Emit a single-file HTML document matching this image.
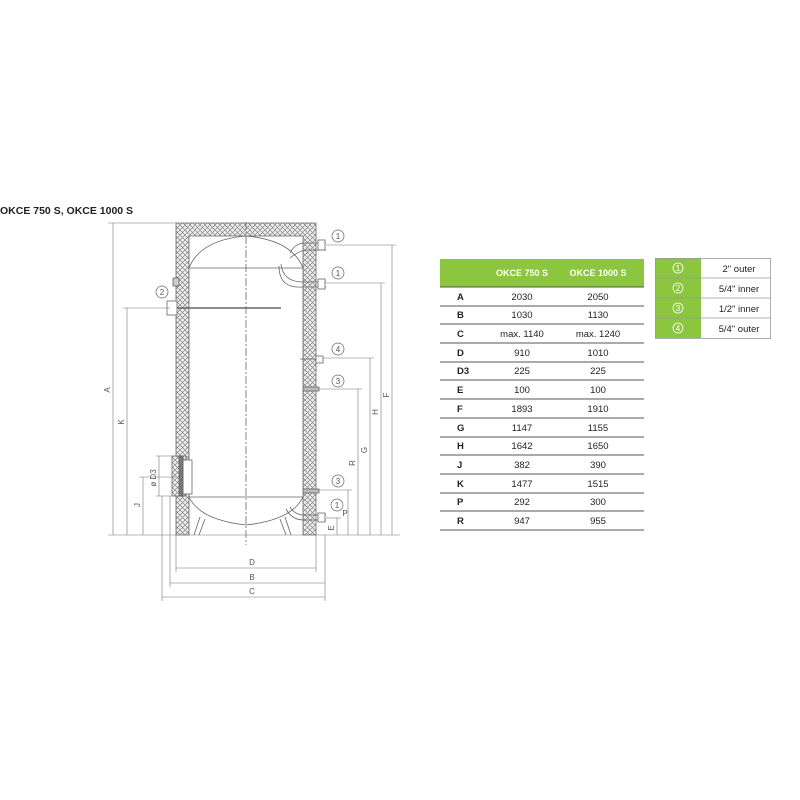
<!DOCTYPE html>
<html><head><meta charset="utf-8"><style>
body{margin:0;background:#fff;}
svg{display:block;font-family:"Liberation Sans",sans-serif;}
</style></head><body>
<svg width="800" height="800" viewBox="0 0 800 800" xmlns="http://www.w3.org/2000/svg">
<defs>
<pattern id="h" width="5" height="5" patternUnits="userSpaceOnUse">
<rect width="5" height="5" fill="#eee"/>
<path d="M0 0L5 5M5 0L0 5" stroke="#888" stroke-width="0.7"/>
</pattern>
</defs>
<text x="0" y="214" font-size="10.5" font-weight="bold" fill="#222">OKCE 750 S, OKCE 1000 S</text>

<g stroke="#666" stroke-width="0.8" fill="none">
<path d="M176 223H316V535H303V236H189V535H176Z" fill="url(#h)"/>
<path d="M189 268Q200 240 246 236Q292 240 303 268V497Q292 520 246 525Q200 520 189 497Z" fill="#fff"/>
<line x1="189" y1="268" x2="303" y2="268"/>
<line x1="189" y1="497" x2="303" y2="497"/>
<line x1="246" y1="222" x2="246" y2="545" stroke-dasharray="8 2 2 2"/>
<path d="M200 517L194 535M205 519L199 535M285 517L291 535M280 519L286 535"/>
<path d="M290 253Q295 243 305 243H326M290 258Q300 250 307 250H326" />
<rect x="318" y="240" width="7" height="10" fill="#fff"/>
<path d="M281 264Q283 282 303 282H326M279 266Q279 289 303 287H326"/>
<rect x="318" y="279" width="7" height="10" fill="#fff"/>
<rect x="316" y="356" width="7" height="7" fill="#fff"/>
<line x1="300" y1="359" x2="316" y2="359"/>
<rect x="303" y="387" width="16" height="4" fill="#bbb"/>
<rect x="303" y="489" width="16" height="4" fill="#bbb"/>
<path d="M286 509Q292 520 304 520H326M290 507Q295 515 304 515H326"/>
<rect x="318" y="513" width="7" height="9" fill="#fff"/>
<rect x="167" y="301" width="10" height="14" fill="#fff"/>
<line x1="177" y1="308" x2="281" y2="308" stroke-width="1.5"/>
<rect x="173" y="278" width="6" height="8" fill="#ccc"/>
<rect x="172" y="456" width="14" height="40" fill="url(#h)"/>
<rect x="183" y="460" width="9" height="34" fill="#fff"/>
<rect x="179" y="456" width="4" height="40" fill="#777"/>
</g>
<g stroke="#777" stroke-width="0.6" fill="none">
<line x1="108" y1="223" x2="176" y2="223"/><line x1="108" y1="535" x2="400" y2="535"/>
<line x1="113" y1="223" x2="113" y2="535"/>
<line x1="123" y1="308" x2="170" y2="308"/><line x1="127" y1="308" x2="127" y2="535"/>
<line x1="139" y1="477" x2="176" y2="477"/><line x1="143" y1="477" x2="143" y2="535"/>
<line x1="156" y1="456" x2="176" y2="456"/><line x1="156" y1="496" x2="176" y2="496"/><line x1="159" y1="456" x2="159" y2="496"/>
<line x1="326" y1="245" x2="396" y2="245"/><line x1="392" y1="245" x2="392" y2="535"/>
<line x1="326" y1="283" x2="385" y2="283"/><line x1="381" y1="283" x2="381" y2="535"/>
<line x1="323" y1="358" x2="374" y2="358"/><line x1="370" y1="358" x2="370" y2="535"/>
<line x1="319" y1="389" x2="362" y2="389"/><line x1="358" y1="389" x2="358" y2="535"/>
<line x1="319" y1="490" x2="352" y2="490"/><line x1="348" y1="490" x2="348" y2="535"/>
<line x1="326" y1="518" x2="341" y2="518"/><line x1="337" y1="518" x2="337" y2="535"/>
<line x1="176" y1="535" x2="176" y2="572"/><line x1="316" y1="535" x2="316" y2="572"/>
<line x1="176" y1="568" x2="316" y2="568"/>
<line x1="170" y1="496" x2="170" y2="587"/><line x1="325" y1="535" x2="325" y2="601"/>
<line x1="170" y1="583" x2="325" y2="583"/>
<line x1="162" y1="496" x2="162" y2="601"/><line x1="162" y1="597" x2="325" y2="597"/>
</g>
<g font-size="8" fill="#555" text-anchor="middle">
<text x="110" y="390" transform="rotate(-90 110 390)">A</text>
<text x="124" y="422" transform="rotate(-90 124 422)">K</text>
<text x="140" y="505" transform="rotate(-90 140 505)">J</text>
<text x="156" y="478" transform="rotate(-90 156 478)">ø D3</text>
<text x="389" y="395" transform="rotate(-90 389 395)">F</text>
<text x="378" y="412" transform="rotate(-90 378 412)">H</text>
<text x="367" y="450" transform="rotate(-90 367 450)">G</text>
<text x="355" y="463" transform="rotate(-90 355 463)">R</text>
<text x="345" y="516">P</text>
<text x="334" y="528" transform="rotate(-90 334 528)">E</text>
<text x="252" y="565">D</text><text x="252" y="580">B</text><text x="252" y="594">C</text>
</g>
<g font-size="8" fill="#555" text-anchor="middle" stroke-width="0.7">
<circle cx="338" cy="236" r="6" fill="#fff" stroke="#666"/><text x="338" y="239">1</text>
<circle cx="338" cy="273" r="6" fill="#fff" stroke="#666"/><text x="338" y="276">1</text>
<circle cx="162" cy="292" r="6" fill="#fff" stroke="#666"/><text x="162" y="295">2</text>
<circle cx="338" cy="349" r="6" fill="#fff" stroke="#666"/><text x="338" y="352">4</text>
<circle cx="338" cy="381" r="6" fill="#fff" stroke="#666"/><text x="338" y="384">3</text>
<circle cx="338" cy="481" r="6" fill="#fff" stroke="#666"/><text x="338" y="484">3</text>
<circle cx="337" cy="505" r="6" fill="#fff" stroke="#666"/><text x="337" y="508">1</text>
</g>

<rect x="440" y="259" width="204" height="28" fill="#8cc63f"/>
<g font-size="9" font-weight="bold" fill="#fff" text-anchor="middle">
<text x="522" y="276">OKCE 750 S</text><text x="598" y="276">OKCE 1000 S</text>
</g>
<g stroke="#555" stroke-width="1">
<line x1="440" y1="287" x2="644" y2="287"/><line x1="440" y1="306" x2="644" y2="306"/>
<line x1="440" y1="324" x2="644" y2="324"/><line x1="440" y1="343" x2="644" y2="343"/>
<line x1="440" y1="362" x2="644" y2="362"/><line x1="440" y1="380" x2="644" y2="380"/>
<line x1="440" y1="399" x2="644" y2="399"/><line x1="440" y1="418" x2="644" y2="418"/>
<line x1="440" y1="437" x2="644" y2="437"/><line x1="440" y1="455" x2="644" y2="455"/>
<line x1="440" y1="474" x2="644" y2="474"/><line x1="440" y1="493" x2="644" y2="493"/>
<line x1="440" y1="511" x2="644" y2="511"/><line x1="440" y1="530" x2="644" y2="530"/>
</g>
<g font-size="9.5" fill="#222">
<g font-weight="bold">
<text x="457" y="300">A</text><text x="457" y="318">B</text><text x="457" y="337">C</text><text x="457" y="356">D</text><text x="457" y="374">D3</text><text x="457" y="393">E</text><text x="457" y="412">F</text><text x="457" y="431">G</text><text x="457" y="449">H</text><text x="457" y="468">J</text><text x="457" y="487">K</text><text x="457" y="505">P</text><text x="457" y="524">R</text>
</g>
<g text-anchor="middle">
<text x="522" y="300">2030</text><text x="598" y="300">2050</text>
<text x="522" y="318">1030</text><text x="598" y="318">1130</text>
<text x="522" y="337">max. 1140</text><text x="598" y="337">max. 1240</text>
<text x="522" y="356">910</text><text x="598" y="356">1010</text>
<text x="522" y="374">225</text><text x="598" y="374">225</text>
<text x="522" y="393">100</text><text x="598" y="393">100</text>
<text x="522" y="412">1893</text><text x="598" y="412">1910</text>
<text x="522" y="431">1147</text><text x="598" y="431">1155</text>
<text x="522" y="449">1642</text><text x="598" y="449">1650</text>
<text x="522" y="468">382</text><text x="598" y="468">390</text>
<text x="522" y="487">1477</text><text x="598" y="487">1515</text>
<text x="522" y="505">292</text><text x="598" y="505">300</text>
<text x="522" y="524">947</text><text x="598" y="524">955</text>
</g>
</g>

<rect x="655" y="258" width="46" height="80" fill="#8cc63f"/>
<rect x="655.5" y="258.5" width="115" height="80" fill="none" stroke="#999" stroke-width="0.8"/>
<g stroke="#999" stroke-width="0.8">
<line x1="655" y1="278" x2="771" y2="278"/><line x1="655" y1="298" x2="771" y2="298"/><line x1="655" y1="318" x2="771" y2="318"/>
</g>
<g font-size="8" fill="#fff" text-anchor="middle">
<circle cx="678" cy="268" r="5" fill="none" stroke="#fff" stroke-width="0.8"/><text x="678" y="271">1</text>
<circle cx="678" cy="288" r="5" fill="none" stroke="#fff" stroke-width="0.8"/><text x="678" y="291">2</text>
<circle cx="678" cy="308" r="5" fill="none" stroke="#fff" stroke-width="0.8"/><text x="678" y="311">3</text>
<circle cx="678" cy="328" r="5" fill="none" stroke="#fff" stroke-width="0.8"/><text x="678" y="331">4</text>
</g>
<g font-size="9.5" fill="#222" text-anchor="middle">
<text x="739" y="272">2" outer</text><text x="739" y="292">5/4" inner</text><text x="739" y="312">1/2" inner</text><text x="739" y="332">5/4" outer</text>
</g>
</svg>
</body></html>
